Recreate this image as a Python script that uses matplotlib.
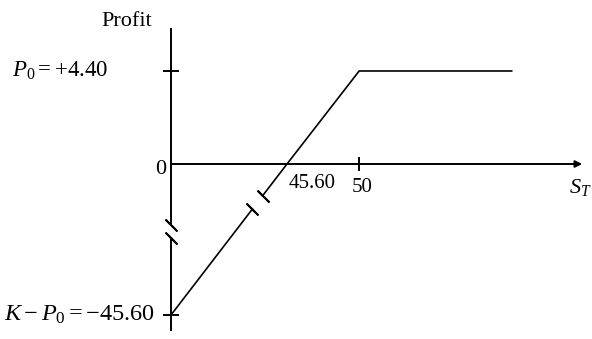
import numpy as np
import matplotlib
matplotlib.use("Agg")
import matplotlib.pyplot as plt

# ---- data (short put payoff, schematic) ----
strike = 50.0
premium = 4.40
breakeven = 45.60
max_loss = -45.60
S_low = [0.0, 32.0]            # lower part of payoff line (below the break)
P_low = [-45.6, -13.6]
S_high = [36.0, 45.6, 50.0, 59.3]   # upper part of payoff line
P_high = [-9.6, 0.0, 4.4, 4.4]
yaxis_top, yaxis_bot = 6.4, -50.1
yaxis_gap = (-18.5, -22.5)
diag_gap = [(32.0, -13.6), (36.0, -9.6)]
x_end = 63.6

plt.rcParams["font.family"] = ["Liberation Serif", "DejaVu Serif"]
plt.rcParams["mathtext.fontset"] = "custom"
plt.rcParams["mathtext.rm"] = "Liberation Serif"
plt.rcParams["mathtext.it"] = "Liberation Serif:italic"

# broken-axis style scales (piecewise linear)
def xf(s):
    s = np.asarray(s, float)
    return np.where(s <= 45.6, 171 + s * 116 / 45.6, 287 + (s - 45.6) * 16.4)

def xi(p):
    p = np.asarray(p, float)
    return np.where(p <= 287, (p - 171) * 45.6 / 116, 45.6 + (p - 287) / 16.4)

def yf(v):
    v = np.asarray(v, float)
    return np.where(v >= 0, -164 + v * 21.14, -164 + v * 3.311)

def yi(p):
    p = np.asarray(p, float)
    return np.where(p >= -164, (p + 164) / 21.14, (p + 164) / 3.311)

fig = plt.figure(figsize=(5.92, 3.39), dpi=100)
ax = fig.add_axes([0, 0, 1, 1])
ax.set_xscale("function", functions=(xf, xi))
ax.set_yscale("function", functions=(yf, yi))
ax.set_xlim(float(xi(0)), float(xi(592)))
ax.set_ylim(float(yi(-339)), float(yi(0)))
ax.axis("off")

lw = 1.4
k = "black"
# y axis with break
ax.plot([0, 0], [yaxis_top, yaxis_gap[0]], color=k, lw=lw)
ax.plot([0, 0], [yaxis_gap[1], yaxis_bot], color=k, lw=lw)
# x axis with arrow
ax.annotate("", xy=(x_end, 0), xytext=(0, 0),
            arrowprops=dict(arrowstyle="-|>", lw=lw, color=k,
                            mutation_scale=10, shrinkA=0, shrinkB=0))
# payoff line
ax.plot(S_low, P_low, color=k, lw=1.2)
ax.plot(S_high, P_high, color=k, lw=1.2)

# ticks
ax.plot([0], [premium], marker="_", markersize=11, mew=lw, color=k)
ax.plot([0], [max_loss], marker="_", markersize=12, mew=lw, color=k)
ax.plot([strike], [0], marker="|", markersize=10, mew=lw, color=k)

# break marks
slash = (2, 2, 45)
for yy in yaxis_gap:
    ax.plot([0], [yy], marker=slash, markersize=12, mew=lw, color=k)
for sx, sy in diag_gap:
    ax.plot([sx], [sy], marker=slash, markersize=12, mew=lw, color=k)

fs = 15
def lab(txt, xy, off, ha="center", va="center", size=fs):
    ax.annotate(txt, xy=xy, xytext=(off[0] * 0.72, off[1] * 0.72),
                textcoords="offset points", ha=ha, va=va, fontsize=size)

lab("Profit", (0, yaxis_top), (-44, 7), size=16)
lab(r"$P_0=+4.40$", (0, premium), (-63, 0), ha="right", size=16.5)
lab("0", (0, 0), (-5, -5), ha="right", size=16)
lab("45.60", (breakeven, 0), (2, -19), ha="left")
lab("50", (strike, 0), (3, -23))
lab(r"$S_T$", (x_end, 0), (-13, -24), ha="left", size=16)
lab(r"$K-P_0=-45.60$", (0, max_loss), (-16, 0), ha="right", size=17.5)

fig.savefig("out.png", dpi=100)
